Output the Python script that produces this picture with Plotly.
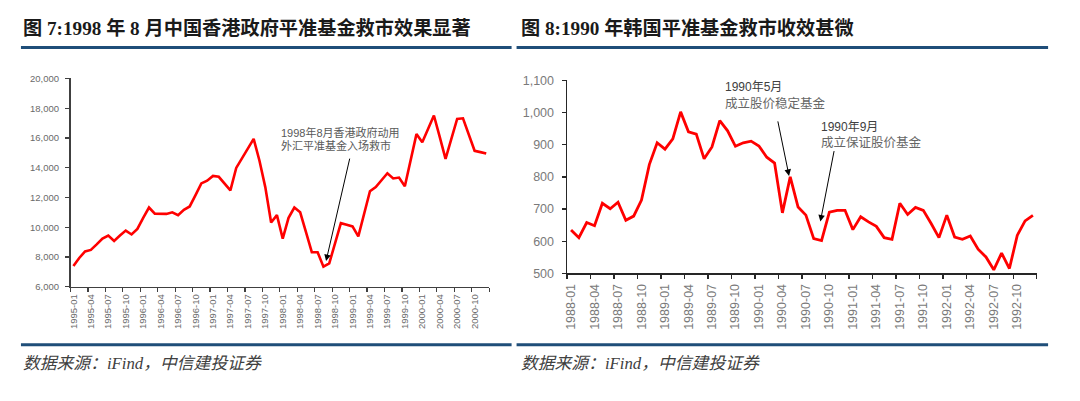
import plotly.graph_objects as go

# ---------------- data ----------------
hk_months = [f"{y}-{m:02d}" for y in range(1995, 2001) for m in range(1, 13)]
hk_values = [7400, 7940, 8380, 8480, 8850, 9240, 9450, 9090, 9450, 9780, 9520, 9890,
             10640, 11330, 10920, 10920, 10900, 11010, 10810, 11180, 11400, 12160, 12950, 13130,
             13450, 13390, 12950, 12480, 13990, 14640, 15330, 15940, 14470, 12700, 10320, 10820,
             9240, 10640, 11330, 11010, 9670, 8330, 8330, 7360, 7580, 8940, 10280, 10170,
             10060, 9390, 10900, 12420, 12700, 13170, 13630, 13280, 13340, 12760, 14510, 16260,
             15720, 16630, 17510, 16070, 14600, 15940, 17280, 17320, 16240, 15140, 15050, 14960]

kr_months = [f"{y}-{m:02d}" for y in range(1988, 1993) for m in range(1, 13)]
kr_values = [635, 611, 658, 648, 718, 701, 721, 665, 678, 728, 838, 906,
             886, 918, 1002, 940, 933, 856, 893, 975, 943, 895, 906, 911,
             896, 861, 843, 688, 800, 706, 681, 608, 602, 690, 696, 696,
             636, 676, 660, 646, 611, 606, 718, 683, 705, 696, 655, 611,
             681, 613, 606, 616, 575, 551, 511, 563, 515, 618, 663, 680]

hk_yticks = [6000, 8000, 10000, 12000, 14000, 16000, 18000, 20000]
kr_yticks = [500, 600, 700, 800, 900, 1000, 1100]

title_left = "图 7:1998 年 8 月中国香港政府平准基金救市效果显著"
title_right = "图 8:1990 年韩国平准基金救市收效甚微"
source_text = "数据来源：iFind，中信建投证券"
hk_note = ["1998年8月香港政府动用", "外汇平准基金入场救市"]
kr_note1 = ["1990年5月", "成立股价稳定基金"]
kr_note2 = ["1990年9月", "成立保证股价基金"]

W, H = 1080, 401


def px(x):
    return x / W


def py(y):
    return 1 - y / H


hk_x = list(range(len(hk_values)))
kr_x = list(range(len(kr_values)))

fig = go.Figure()
fig.add_trace(go.Scatter(x=hk_x, y=hk_values, mode="lines",
                         line=dict(color="#FF0000", width=2.6),
                         xaxis="x", yaxis="y", hoverinfo="skip"))
fig.add_trace(go.Scatter(x=kr_x, y=kr_values, mode="lines",
                         line=dict(color="#FF0000", width=2.8),
                         xaxis="x2", yaxis="y2", hoverinfo="skip"))

lab_l = dict(family="Liberation Sans, Arial, sans-serif", size=9.5, color="#6a6a6a")
lab_r = dict(family="Liberation Sans, Arial, sans-serif", size=12.5, color="#7a7a7a")

hk_tv = hk_x[::3]
kr_tv = kr_x[::3]

fig.update_layout(
    width=W, height=H,
    margin=dict(l=0, r=0, t=0, b=0),
    paper_bgcolor="white", plot_bgcolor="white",
    showlegend=False,
    xaxis=dict(domain=[px(67.7), px(487.5)], anchor="y",
               range=[-0.5, len(hk_values) - 0.5],
               tickmode="array", tickvals=hk_tv, ticktext=[hk_months[i] for i in hk_tv],
               tickangle=-90, tickfont=lab_l, ticks="", ticklabelstandoff=2,
               showline=True, linecolor="#404040", linewidth=1.5,
               showgrid=False, zeroline=False,
               minor=dict(tickmode="array",
                          tickvals=[i - 0.5 for i in hk_tv] + [len(hk_values) - 0.5],
                          ticks="outside", ticklen=4, tickcolor="#404040", tickwidth=1.2,
                          showgrid=False)),
    yaxis=dict(domain=[py(290), py(74)], anchor="x",
               range=[6000, 20000], tickmode="array", tickvals=hk_yticks,
               tickformat=",d", tickfont=lab_l,
               ticks="outside", ticklen=4, tickcolor="#404040", tickwidth=1.2,
               showline=True, linecolor="#404040", linewidth=1.5,
               showgrid=False, zeroline=False, ticklabelstandoff=4),
    xaxis2=dict(domain=[px(565.7), px(1036.7)], anchor="y2",
                range=[-0.5, len(kr_values) - 0.5],
                tickmode="array", tickvals=kr_tv, ticktext=[kr_months[i] for i in kr_tv],
                tickangle=-90, tickfont=lab_r, ticks="", ticklabelstandoff=4,
                showline=True, linecolor="#262626", linewidth=1.6,
                showgrid=False, zeroline=False,
                minor=dict(tickmode="array",
                           tickvals=[i - 0.5 for i in kr_tv] + [len(kr_values) - 0.5],
                           ticks="outside", ticklen=4, tickcolor="#262626", tickwidth=1.3,
                           showgrid=False)),
    yaxis2=dict(domain=[py(276), py(76)], anchor="x2",
                range=[500, 1100], tickmode="array", tickvals=kr_yticks,
                tickformat=",d", tickfont=lab_r,
                ticks="outside", ticklen=4, tickcolor="#262626", tickwidth=1.3,
                showline=True, linecolor="#262626", linewidth=1.6,
                showgrid=False, zeroline=False, ticklabelstandoff=5),
)

title_font = dict(family="Liberation Serif, Noto Sans CJK SC, serif", size=19.2, color="#1a1a1a")
src_font = dict(family="Liberation Serif, Noto Sans CJK SC, serif", size=16.8, color="#404040",
                style="italic")

ann = []
for x0, t in [(18, title_left), (517, title_right)]:
    ann.append(dict(xref="paper", yref="paper", x=px(x0), y=py(22), xanchor="left",
                    yanchor="middle", text=f"<b>{t}</b>", showarrow=False, font=title_font))
for x0 in (18, 517):
    ann.append(dict(xref="paper", yref="paper", x=px(x0), y=py(369), xanchor="left",
                    yanchor="middle", text=source_text, showarrow=False, font=src_font))

note_font = dict(family="Liberation Sans, Noto Sans CJK SC, sans-serif", size=11, color="#595959")
for k, line in enumerate(hk_note):
    ann.append(dict(xref="paper", yref="paper", x=px(277), y=py(130 + k * 13.5),
                    xanchor="left", yanchor="middle", text=line, showarrow=False,
                    font=note_font))

kfont1 = dict(family="Liberation Sans, Noto Sans CJK SC, sans-serif", size=12, color="#404040")
kfont2 = dict(family="Liberation Sans, Noto Sans CJK SC, sans-serif", size=12.5, color="#666666")
for (x0, y0), lines in [((722, 83), kr_note1), ((818, 124), kr_note2)]:
    ann.append(dict(xref="paper", yref="paper", x=px(x0), y=py(y0), xanchor="left",
                    yanchor="middle", text=lines[0], showarrow=False, font=kfont1))
    ann.append(dict(xref="paper", yref="paper", x=px(x0), y=py(y0 + 16.5), xanchor="left",
                    yanchor="middle", text=lines[1], showarrow=False, font=kfont2))

# arrows pointing at the events
i_hk = hk_months.index("1998-08")
ann.append(dict(xref="x", yref="y", x=i_hk + 0.45, y=hk_values[i_hk] + 370,
                ax=24, ay=-104, showarrow=True, arrowhead=2, arrowsize=1.3,
                arrowwidth=1, arrowcolor="#000000", text=""))
i_k1 = kr_months.index("1990-05")
ann.append(dict(xref="x2", yref="y2", x=i_k1 - 0.15, y=kr_values[i_k1] + 3,
                ax=-11.5, ay=-56, showarrow=True, arrowhead=2, arrowsize=1.3,
                arrowwidth=1, arrowcolor="#000000", text=""))
i_k2 = kr_months.index("1990-09")
ann.append(dict(xref="x2", yref="y2", x=i_k2 - 0.15, y=kr_values[i_k2] + 59,
                ax=14, ay=-72, showarrow=True, arrowhead=2, arrowsize=1.3,
                arrowwidth=1, arrowcolor="#000000", text=""))

fig.update_layout(annotations=ann)

rule = dict(color="#1F4E79", width=3)
shapes = []
for (a, b) in [(18, 510), (515, 1048)]:
    for yy in (42, 350):
        shapes.append(dict(type="line", xref="paper", yref="paper",
                           x0=px(a), x1=px(b), y0=py(yy), y1=py(yy), line=rule))
fig.update_layout(shapes=shapes)

# remove the default page margin so the figure fills the window exactly
page_css = ("document.body.style.margin='0';"
            "document.body.style.padding='0';"
            "document.documentElement.style.overflow='hidden';")
fig.write_html("out.html", post_script=page_css,
               config={"displayModeBar": False, "staticPlot": True})
